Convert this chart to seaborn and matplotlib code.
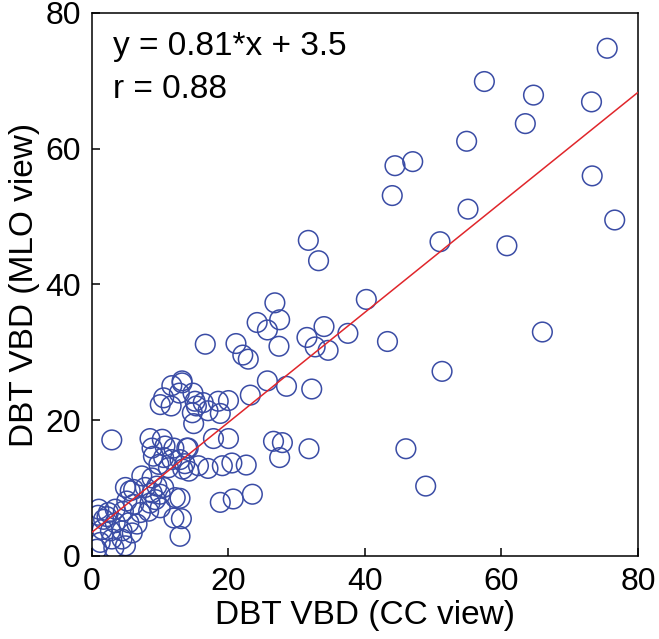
import numpy as np
import pandas as pd
import seaborn as sns
from matplotlib import pyplot as plt

# VBD, CC view vs MLO view
cc_view = [
    75.5, 57.5, 64.7, 73.2, 63.5, 54.9, 47.0, 44.4, 44.0, 73.3, 55.1, 76.6, 51.0, 60.8,
    66.0, 51.3, 46.0, 48.9, 43.3, 40.2, 37.5, 34.6, 34.0, 33.2, 31.7, 32.7, 31.5,
    26.8, 24.2, 27.5, 25.7, 27.4, 16.6, 21.1, 22.1, 22.9,
    25.7, 28.5, 32.2, 23.2, 20.0, 18.5, 16.3, 15.3, 17.0, 18.8, 14.9, 13.2, 14.8,
    17.8, 20.0, 26.6, 27.9, 31.8, 27.5, 14.1, 13.3, 13.6, 17.0, 19.1, 20.5, 22.6,
    18.8, 20.7, 23.5, 12.9, 13.1, 12.9,
    11.7, 13.2, 10.5, 10.0, 11.6, 12.8, 15.1, 14.7, 2.9, 8.5, 10.3, 8.8, 10.7, 12.0,
    13.9, 9.0, 10.5, 11.7, 12.9, 14.2, 15.6, 9.8, 11.2, 7.3, 8.8, 4.9, 6.1, 7.8, 9.5,
    10.5, 12.2, 8.8, 9.3, 10.0, 8.5, 8.3, 10.0, 12.0, 5.1, 6.1, 4.6, 1.0, 2.4, 3.4,
    7.1, 1.7, 3.4, 5.4, 6.6, 1.5, 2.7, 4.4, 5.9, 2.9, 4.4, 1.2, 3.2, 0.7, 4.9,
    2.2, 5.6, 0.9,
]
mlo_view = [
    74.8, 69.9, 67.9, 66.9, 63.7, 61.1, 58.1, 57.5, 53.1, 56.0, 51.1, 49.5, 46.3, 45.7,
    33.0, 27.2, 15.8, 10.3, 31.6, 37.8, 32.8, 30.3, 33.8, 43.5, 46.5, 30.8, 32.2,
    37.3, 34.4, 34.8, 33.3, 30.9, 31.2, 31.3, 29.6, 29.0,
    25.8, 25.0, 24.6, 23.7, 22.9, 22.8, 22.6, 22.1, 21.4, 21.0, 19.5, 25.8, 24.0,
    17.3, 17.3, 16.9, 16.7, 15.8, 14.5, 15.9, 12.8, 13.6, 12.9, 13.3, 13.7, 13.4,
    7.9, 8.4, 9.1, 8.5, 5.5, 2.9,
    25.1, 25.5, 23.3, 22.3, 22.1, 24.0, 22.8, 21.1, 17.1, 17.3, 17.2, 15.9, 16.2, 15.9,
    15.9, 14.7, 14.5, 14.2, 14.2, 12.5, 13.3, 13.5, 13.0, 11.8, 11.5, 10.1, 9.8, 10.1, 10.3,
    10.1, 8.6, 9.3, 8.3, 9.1, 7.8, 6.6, 7.1, 5.6, 8.1, 7.6, 6.6, 6.9, 6.4, 6.9,
    6.4, 5.4, 4.9, 4.9, 4.7, 3.9, 3.7, 3.7, 3.4, 2.5, 2.5, 2.0, 1.2, 1.0, 1.5,
    5.8, 9.6, 6.0,
]
fit_slope = 0.81
fit_intercept = 3.5
fit_r = 0.88

df = pd.DataFrame({'cc': cc_view, 'mlo': mlo_view})

sns.set_style('ticks')
plt.rcParams['font.family'] = ['Liberation Sans', 'DejaVu Sans']
plt.rcParams['text.color'] = 'black'
plt.rcParams['axes.labelcolor'] = 'black'
plt.rcParams['xtick.color'] = 'black'
plt.rcParams['ytick.color'] = 'black'

fig = plt.figure(figsize=(6.59, 6.39), dpi=100)
ax = fig.add_axes([0.1396, 0.1299, 0.8284, 0.8498])

sns.scatterplot(data=df, x='cc', y='mlo', ax=ax, marker='o', s=200,
                facecolor='none', edgecolor='#3a4ca5', linewidth=1.1, zorder=2)
ax.axline((0, fit_intercept), slope=fit_slope, color='#e0262b', linewidth=1.1, zorder=3)

ax.set_xlim(0, 80)
ax.set_ylim(0, 80)
ax.set_xticks([0, 20, 40, 60, 80])
ax.set_yticks([0, 20, 40, 60, 80])
ax.tick_params(direction='in', length=6, width=1.1, labelsize=23, pad=8,
               colors='black', labelcolor='black')
for sp in ax.spines.values():
    sp.set_visible(True)
    sp.set_linewidth(1.1)
    sp.set_color('black')

ax.set_xlabel('DBT VBD (CC view)', fontsize=24, labelpad=2, color='black')
ax.set_ylabel('DBT VBD (MLO view)', fontsize=24, labelpad=4, color='black')

ax.text(3.1, 73.8, 'y = %.2f*x + %.1f' % (fit_slope, fit_intercept), fontsize=24,
        va='baseline', color='black')
ax.text(3.1, 67.4, 'r = %.2f' % fit_r, fontsize=24, va='baseline', color='black')

plt.savefig('out.png', dpi=100)
